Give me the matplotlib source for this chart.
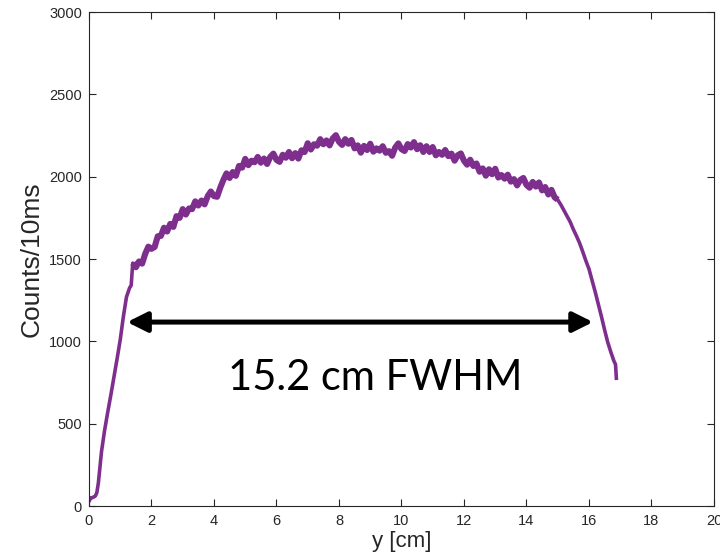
import matplotlib.pyplot as plt

# ============================================================
# DATA
# ============================================================

pos_cm = [
    0.0, 0.05, 0.1, 0.2, 0.25, 0.3, 0.4, 0.5, 0.6, 0.7, 0.8, 0.9,
    1.0, 1.1, 1.2, 1.3, 1.35,
    1.4, 1.5, 1.6, 1.7, 1.8, 1.9,
    2.0, 2.1, 2.2, 2.3, 2.4, 2.5, 2.6, 2.7, 2.8, 2.9,
    3.0, 3.1, 3.2, 3.3, 3.4, 3.5, 3.6, 3.7, 3.8, 3.9,
    4.0, 4.1, 4.2, 4.3, 4.4, 4.5, 4.6, 4.7, 4.8, 4.9,
    5.0, 5.1, 5.2, 5.3, 5.4, 5.5, 5.6, 5.7, 5.8, 5.9,
    6.0, 6.1, 6.2, 6.3, 6.4, 6.5, 6.6, 6.7, 6.8, 6.9,
    7.0, 7.1, 7.2, 7.3, 7.4, 7.5, 7.6, 7.7, 7.8, 7.9,
    8.0, 8.1, 8.2, 8.3, 8.4, 8.5, 8.6, 8.7, 8.8, 8.9,
    9.0, 9.1, 9.2, 9.3, 9.4, 9.5, 9.6, 9.7, 9.8, 9.9,
    10.0, 10.1, 10.2, 10.3, 10.4, 10.5, 10.6, 10.7, 10.8, 10.9,
    11.0, 11.1, 11.2, 11.3, 11.4, 11.5, 11.6, 11.7, 11.8, 11.9,
    12.0, 12.1, 12.2, 12.3, 12.4, 12.5, 12.6, 12.7, 12.8, 12.9,
    13.0, 13.1, 13.2, 13.3, 13.4, 13.5, 13.6, 13.7, 13.8, 13.9,
    14.0, 14.1, 14.2, 14.3, 14.4, 14.5, 14.6, 14.7, 14.8, 14.9,
    15.0, 15.1, 15.2, 15.3, 15.4, 15.5, 15.6, 15.7, 15.8, 15.9,
    16.0, 16.1, 16.2, 16.3, 16.4, 16.5, 16.6, 16.7, 16.8, 16.85, 16.88,
]

counts = [
    25, 50, 50, 60, 80, 140, 330, 460, 570, 675, 785, 895,
    1010, 1150, 1270, 1325, 1340,
    1475, 1450, 1485, 1472, 1532, 1575,
    1562, 1573, 1638, 1640, 1690, 1667, 1713, 1695, 1760, 1750,
    1803, 1770, 1807, 1803, 1850, 1825, 1855, 1832, 1882, 1910,
    1882, 1878, 1933, 1980, 2020, 1992, 2028, 2005, 2065, 2055,
    2108, 2070, 2097, 2088, 2120, 2085, 2110, 2077, 2120, 2140,
    2102, 2090, 2133, 2115, 2150, 2112, 2143, 2110, 2160, 2150,
    2203, 2165, 2197, 2188, 2228, 2197, 2220, 2190, 2232, 2252,
    2212, 2193, 2228, 2200, 2223, 2172, 2190, 2146, 2187, 2162,
    2200, 2152, 2172, 2158, 2185, 2145, 2155, 2127, 2177, 2202,
    2167, 2156, 2198, 2177, 2210, 2167, 2191, 2150, 2185, 2150,
    2180, 2130, 2150, 2133, 2162, 2125, 2140, 2097, 2130, 2141,
    2097, 2073, 2103, 2065, 2080, 2030, 2050, 2006, 2045, 2015,
    2048, 1995, 2010, 1988, 2012, 1970, 1985, 1947, 1980, 1992,
    1950, 1933, 1968, 1940, 1965, 1917, 1937, 1892, 1920, 1875,
    1860, 1830, 1795, 1760, 1725, 1680, 1640, 1597, 1545, 1490,
    1440, 1370, 1300, 1225, 1150, 1070, 995, 935, 880, 860, 765,
]

# index range of the noisy plateau (x = 1.4 ... 15.0), drawn as a thicker band
noisy_first = 17
noisy_last = 154

fwhm_start = 1.22
fwhm_end = 16.13
fwhm_level = 1117
fwhm_label = "15.2 cm FWHM"

# ============================================================
# PLOT
# ============================================================

axis_col = "#262626"
purple = "#7E2F8E"

fig = plt.figure(figsize=(7.2, 5.59), dpi=100)
ax = fig.add_axes([0.1236, 0.0948, 0.868, 0.8837])

ax.plot(pos_cm, counts, color=purple, lw=2.6,
        solid_joinstyle="round", solid_capstyle="butt")
ax.plot(
    pos_cm[noisy_first:noisy_last],
    counts[noisy_first:noisy_last],
    color=purple, lw=4.4,
    solid_joinstyle="round", solid_capstyle="butt",
)

ax.annotate(
    "",
    xy=(fwhm_end, fwhm_level),
    xytext=(fwhm_start, fwhm_level),
    arrowprops=dict(
        arrowstyle="<|-|>,head_length=1.0,head_width=0.5",
        mutation_scale=12,
        lw=3.6,
        color="black",
        shrinkA=0,
        shrinkB=0,
    ),
)

ax.text(
    9.15, 777, fwhm_label,
    ha="center", va="center",
    fontsize=30, family="Lato", color="black",
)

ax.set_xlim(0, 20)
ax.set_ylim(0, 3000)
ax.set_xticks(range(0, 21, 2))
ax.set_yticks(range(0, 3001, 500))

for s in ax.spines.values():
    s.set_color(axis_col)
    s.set_linewidth(0.8)

ax.tick_params(
    direction="in", top=True, right=True, length=5, width=0.8,
    color=axis_col, labelcolor=axis_col, labelsize=10.5,
)
ax.tick_params(axis="x", pad=6)
ax.tick_params(axis="y", pad=5)
for lab in ax.get_xticklabels() + ax.get_yticklabels():
    lab.set_family("Liberation Sans")

ax.set_xlabel("y [cm]", fontsize=16, family="Liberation Sans",
              color=axis_col, labelpad=2)
ax.set_ylabel("Counts/10ms", fontsize=19, family="Liberation Sans",
              color=axis_col, labelpad=4)

fig.savefig("out.png", dpi=100)
